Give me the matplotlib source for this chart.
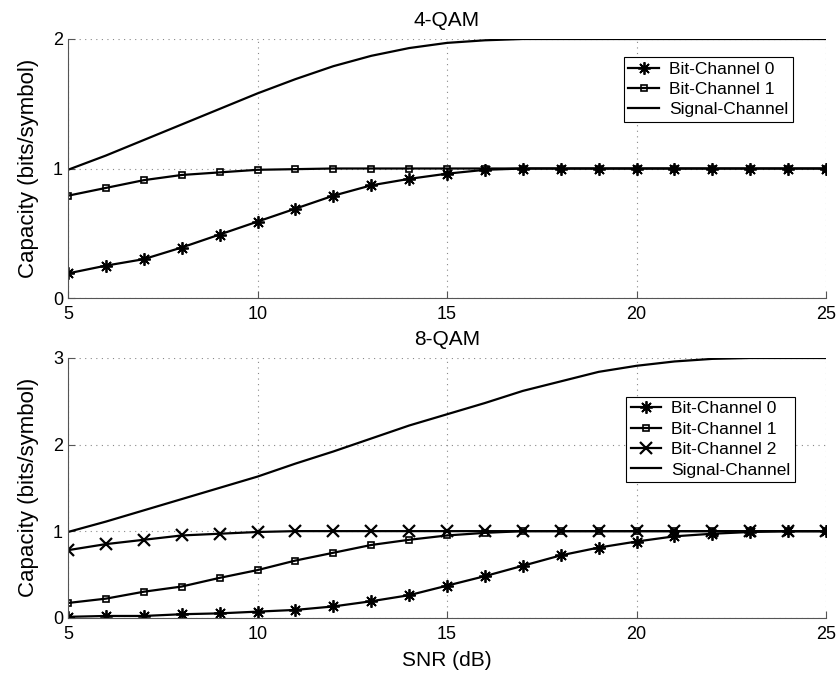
import numpy as np
import matplotlib.pyplot as plt

plt.rcParams['font.family'] = ['Liberation Sans', 'DejaVu Sans']

snr = list(range(5, 26))

# 4-QAM
qam4_bit0 = [0.19, 0.25, 0.30, 0.39, 0.49, 0.59, 0.69, 0.79, 0.87, 0.92, 0.96, 0.99,
             1.0, 1.0, 1.0, 1.0, 1.0, 1.0, 1.0, 1.0, 1.0]
qam4_bit1 = [0.79, 0.85, 0.91, 0.95, 0.97, 0.99, 0.995, 1.0, 1.0, 1.0, 1.0, 1.0,
             1.0, 1.0, 1.0, 1.0, 1.0, 1.0, 1.0, 1.0, 1.0]
qam4_sig = [0.99, 1.10, 1.22, 1.34, 1.46, 1.58, 1.69, 1.79, 1.87, 1.93, 1.97, 1.99,
            2.0, 2.0, 2.0, 2.0, 2.0, 2.0, 2.0, 2.0, 2.0]

# 8-QAM
qam8_bit0 = [0.01, 0.02, 0.02, 0.04, 0.05, 0.07, 0.09, 0.13, 0.19, 0.26, 0.37, 0.48,
             0.60, 0.72, 0.81, 0.88, 0.94, 0.97, 0.99, 1.0, 1.0]
qam8_bit1 = [0.17, 0.22, 0.30, 0.36, 0.46, 0.55, 0.66, 0.75, 0.84, 0.90, 0.95, 0.98,
             1.0, 1.0, 1.0, 1.0, 1.0, 1.0, 1.0, 1.0, 1.0]
qam8_bit2 = [0.78, 0.85, 0.90, 0.95, 0.97, 0.99, 1.0, 1.0, 1.0, 1.0, 1.0, 1.0,
             1.0, 1.0, 1.0, 1.0, 1.0, 1.0, 1.0, 1.0, 1.0]
qam8_sig = [0.99, 1.11, 1.24, 1.37, 1.50, 1.63, 1.78, 1.92, 2.07, 2.22, 2.35, 2.48,
            2.62, 2.73, 2.84, 2.91, 2.96, 2.99, 3.0, 3.0, 3.0]

asterisk = (8, 2, 0)

fig = plt.figure(figsize=(8.37, 6.77), dpi=100)
ax1 = fig.add_axes([0.0812, 0.5598, 0.9058, 0.3826])
ax2 = fig.add_axes([0.0812, 0.0876, 0.9058, 0.3836])

def style(ax, ymax, title):
    ax.set_xlim(5, 25)
    ax.set_ylim(0, ymax)
    ax.set_xticks([5, 10, 15, 20, 25])
    ax.set_yticks(range(ymax + 1))
    ax.grid(True, linestyle=(0, (1, 4)), color='#888888', linewidth=0.8)
    ax.spines['top'].set_visible(False)
    ax.spines['right'].set_visible(False)
    ax.spines['left'].set_color('#555555')
    ax.spines['bottom'].set_color('#555555')
    ax.tick_params(direction='in', labelsize=13, length=5, color='#555555')
    ax.tick_params(axis='x', pad=6)
    ax.set_ylabel('Capacity (bits/symbol)', fontsize=16, labelpad=10)
    ax.set_title(title, fontsize=15, pad=9)

def add_legend(ax, anchor):
    leg = ax.legend(loc='upper right', bbox_to_anchor=anchor, borderaxespad=0, fontsize=12.5,
                    fancybox=False, edgecolor='black', framealpha=1, handlelength=1.75,
                    borderpad=0.25, labelspacing=0.3, handletextpad=0.6)
    leg.get_frame().set_linewidth(0.8)

ax1.plot(snr, qam4_bit0, color='black', lw=1.6, marker=asterisk, ms=9, mew=1.3, label='Bit-Channel 0')
ax1.plot(snr, qam4_bit1, color='black', lw=1.6, marker='s', ms=5, mfc='none', mew=1.2, label='Bit-Channel 1')
ax1.plot(snr, qam4_sig, color='black', lw=1.6, label='Signal-Channel')
style(ax1, 2, '4-QAM')
add_legend(ax1, (0.956, 0.93))

ax2.plot(snr, qam8_bit0, color='black', lw=1.6, marker=asterisk, ms=9, mew=1.3, label='Bit-Channel 0')
ax2.plot(snr, qam8_bit1, color='black', lw=1.6, marker='s', ms=5, mfc='none', mew=1.2, label='Bit-Channel 1')
ax2.plot(snr, qam8_bit2, color='black', lw=1.6, marker='x', ms=9, mew=1.6, label='Bit-Channel 2')
ax2.plot(snr, qam8_sig, color='black', lw=1.6, label='Signal-Channel')
style(ax2, 3, '8-QAM')
ax2.set_xlabel('SNR (dB)', fontsize=15, labelpad=6)
add_legend(ax2, (0.959, 0.85))

fig.savefig('out.png', dpi=100)
